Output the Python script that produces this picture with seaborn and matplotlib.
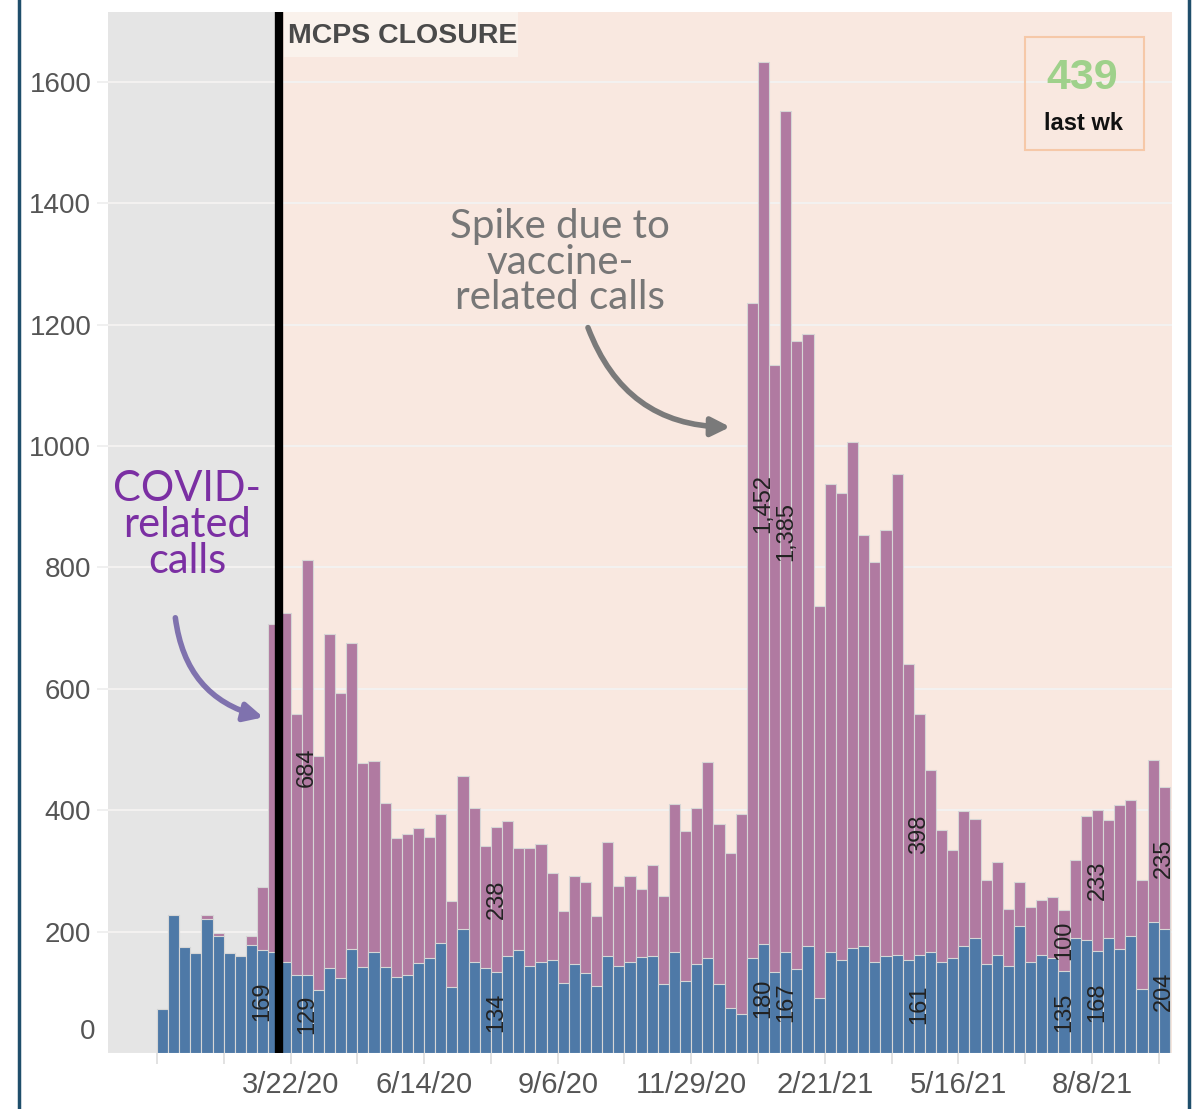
import numpy as np
import pandas as pd
import matplotlib
matplotlib.use('Agg')
import matplotlib.pyplot as plt
from matplotlib.patches import Rectangle, FancyArrowPatch
from matplotlib.lines import Line2D
import seaborn as sns

# Weekly calls, starting week of 12/29/19
start_week = '2019-12-29'
other_calls = [73, 228, 175, 165, 221, 192, 165, 159, 178, 169,
               166, 150, 128, 129, 103, 140, 124, 172, 141, 166,
               142, 126, 129, 149, 156, 182, 109, 205, 150, 140,
               134, 160, 169, 143, 150, 153, 116, 147, 131, 111,
               160, 144, 150, 158, 160, 114, 166, 119, 147, 156,
               114, 74, 64, 156, 180, 134, 167, 139, 177, 91,
               166, 153, 173, 177, 150, 160, 162, 153, 161, 166,
               150, 156, 176, 189, 146, 162, 143, 209, 150, 162,
               156, 135, 189, 186, 168, 189, 171, 193, 106, 216,
               204]
covid_calls = [0, 0, 0, 0, 7, 6, 0, 0, 14, 105,
               540, 575, 430, 684, 386, 550, 469, 504, 337, 315,
               270, 228, 232, 222, 200, 211, 142, 251, 254, 201,
               238, 223, 168, 194, 194, 144, 118, 144, 150, 114,
               187, 131, 141, 113, 149, 144, 245, 247, 257, 323,
               263, 256, 329, 1079, 1452, 999, 1385, 1034, 1007, 645,
               772, 769, 833, 677, 659, 702, 792, 488, 398, 300,
               217, 179, 223, 197, 139, 152, 95, 73, 91, 90,
               101, 100, 129, 204, 233, 195, 237, 224, 179, 267,
               235]
other_label_weeks = [9, 13, 30, 54, 56, 68, 81, 84, 90]
covid_label_weeks = [13, 30, 54, 56, 68, 81, 84, 90]
closure_week = 11  # MCPS closure drawn at start of this week
y_ticks = [200, 400, 600, 800, 1000, 1200, 1400, 1600]

weeks = pd.date_range(start_week, periods=len(other_calls), freq='7D')
df = pd.DataFrame({'week': weeks.strftime('%m/%d/%y'),
                   'other': other_calls, 'covid': covid_calls})
df['total'] = df['other'] + df['covid']

W, H = 1192, 1109
fig = plt.figure(figsize=(W / 100, H / 100), dpi=100)
ax = fig.add_axes([108 / W, 1 - 1053 / H, (1172 - 108) / W, (1053 - 12) / H])

sans = ['Liberation Sans', 'DejaVu Sans']
hand = ['Lato', 'DejaVu Sans']
blue = '#4E79A7'
purple = '#B07AA1'
edge = '#d6d6d6'

sns.barplot(data=df, x='week', y='total', color=purple, saturation=1, width=1,
            edgecolor=edge, linewidth=0.8, errorbar=None, ax=ax, zorder=2)
sns.barplot(data=df, x='week', y='other', color=blue, saturation=1, width=1,
            edgecolor=edge, linewidth=0.8, errorbar=None, ax=ax, zorder=3)

x0, x1 = -4.9, len(df) - 0.3
ax.set_xlim(x0, x1)
ax.set_ylim(0, 1715)

# backgrounds: before / after closure
closure_x = closure_week - 0.55
ax.axvspan(x0, closure_x, color='#E5E5E5', zorder=0, lw=0)
ax.axvspan(closure_x, x1, color='#F9E8E0', zorder=0, lw=0)
ax.axvline(closure_x, color='black', lw=6, zorder=5)

for s in ax.spines.values():
    s.set_visible(False)
ax.set_axisbelow(True)
ax.grid(axis='y', color='#F3F1F0', lw=1.5, zorder=1)
ax.grid(axis='x', visible=False)
ax.set_xlabel('')
ax.set_ylabel('')

# y axis
ax.set_yticks(y_ticks)
ax.set_yticklabels([str(v) for v in y_ticks])
ax.tick_params(axis='y', length=8, color='#eeeeee', width=1.2, pad=4,
               labelsize=20, labelcolor='#555555')
for t in ax.get_yticklabels():
    t.set_family(sans)
ax.text(-0.012, 34, '0', transform=ax.get_yaxis_transform(), ha='right', va='center',
        fontsize=20, color='#555555', family=sans)
ax.axhline(0, color='#eeeeee', lw=1, zorder=1)

# x axis: tick marks every 6 weeks, labels every 12
tick_pos = np.arange(0, len(df), 6) - 0.5
ax.set_xticks(tick_pos)
ax.set_xticklabels([df['week'][int(p + 0.5)].lstrip('0').replace('/0', '/')
                    if int(p + 0.5) % 12 == 0 and int(p + 0.5) > 0 else ''
                    for p in tick_pos])
ax.tick_params(axis='x', length=8, color='#dddddd', width=1.2, pad=5,
               labelsize=21, labelcolor='#555555')
for t in ax.get_xticklabels():
    t.set_family(sans)

# value labels inside segments
for i in other_label_weeks:
    ax.text(i, df['other'][i] / 2, f"{df['other'][i]:,}", rotation=90, ha='center',
            va='center', fontsize=17, color='#222222', family=sans, zorder=6)
for i in covid_label_weeks:
    ax.text(i, df['other'][i] + df['covid'][i] / 2, f"{df['covid'][i]:,}", rotation=90,
            ha='center', va='center', fontsize=17, color='#222222', family=sans, zorder=6)


def fx(px):
    return px / W


def fy(py):
    return 1 - py / H


# MCPS closure label
fig.patches.append(Rectangle((fx(284), fy(57)), (518 - 284) / W, 45 / H,
                             transform=fig.transFigure, facecolor='#FAF2EC', lw=0))
fig.text(fx(288), fy(36), 'MCPS CLOSURE', ha='left', va='center', fontsize=20.5,
         fontweight='bold', color='#4a4a4a', family=sans)

# last week box
fig.patches.append(Rectangle((fx(1025), fy(150)), (1144 - 1025) / W, (150 - 37) / H,
                             transform=fig.transFigure, facecolor='none',
                             edgecolor='#F6C8A8', lw=1.5))
fig.text(fx(1082), fy(78), f"{df['total'].iloc[-1]}", ha='center', va='center',
         fontsize=31, fontweight='bold', color='#9FD18B', family=sans)
fig.text(fx(1084), fy(124), 'last wk', ha='center', va='center', fontsize=17,
         fontweight='bold', color='#111111', family=sans)

# annotations
fig.text(fx(187), fy(525), 'COVID-\nrelated\ncalls', ha='center', va='center',
         fontsize=30, color='#7B2FA3', family=hand, linespacing=0.95)
fig.patches.append(FancyArrowPatch((fx(175), fy(615)), (fx(266), fy(718)),
                                   transform=fig.transFigure,
                                   connectionstyle='arc3,rad=0.35', arrowstyle='-|>',
                                   mutation_scale=28, lw=4, color='#7F72AE'))
fig.text(fx(560), fy(262), 'Spike due to\nvaccine-\nrelated calls', ha='center',
         va='center', fontsize=29, color='#777777', family=hand, linespacing=0.95)
fig.patches.append(FancyArrowPatch((fx(587), fy(325)), (fx(733), fy(427)),
                                   transform=fig.transFigure,
                                   connectionstyle='arc3,rad=0.35', arrowstyle='-|>',
                                   mutation_scale=28, lw=4, color='#7a7a7a'))

# container frame
fig.add_artist(Line2D([fx(19), fx(19)], [0, 1], color='#1F4E6B', lw=2.5))
fig.add_artist(Line2D([fx(1189), fx(1189)], [0, 1], color='#1F4E6B', lw=2.5))

fig.savefig('out.png', dpi=100, facecolor='white')
